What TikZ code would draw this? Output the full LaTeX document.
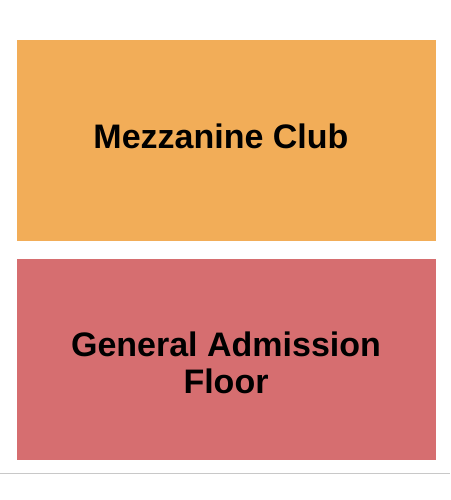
\documentclass[tikz,border=0pt]{standalone}
\usepackage{fontspec}
\setmainfont{Liberation Sans}
\definecolor{clubcolor}{RGB}{242,173,88}
\definecolor{floorcolor}{RGB}{214,110,112}
\definecolor{rulecolor}{RGB}{200,200,200}

\begin{document}
\begin{tikzpicture}[x=1pt,y=-1pt,
    sectionbox/.style={draw=white,line width=0.6pt},
    sectionlabel/.style={font=\bfseries\fontsize{34}{37}\selectfont,align=center,inner sep=0pt}]
                \useasboundingbox (0,0) rectangle (450,500);

                % seating sections
                \draw[sectionbox,fill=clubcolor] (16,39) rectangle (436,241);
                \draw[sectionbox,fill=floorcolor] (16,258) rectangle (436,460);

                \node[sectionlabel,anchor=base] (club) at (221,148) {Mezzanine Club};
                \node[sectionlabel,anchor=base] (floor) at (226,393) {General Admission\\Floor};

                % rule along the bottom
                \draw[rulecolor,line width=1pt] (0,473) -- (450,473);
            \end{tikzpicture}
\end{document}
